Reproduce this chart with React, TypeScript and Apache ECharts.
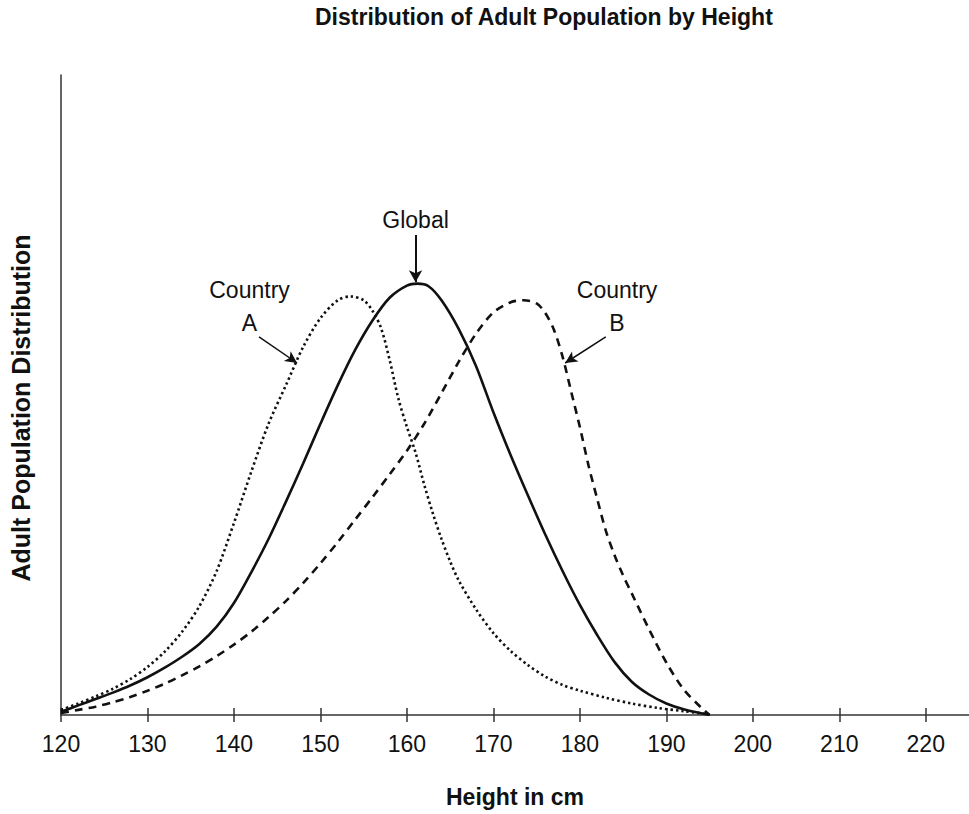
import React, { useEffect, useRef } from "react";
import * as echarts from "echarts";

// ---- data ----
const heightTicks = [120, 130, 140, 150, 160, 170, 180, 190, 200, 210, 220];

const countryAHeights = [120, 122, 124, 126, 128, 130, 132, 134, 136, 138, 140, 142, 144, 146, 148, 150, 152, 153.5, 155, 156, 157, 158, 159, 160, 161, 162, 163, 164, 165, 166, 168, 170, 172, 174, 176, 178, 180, 183, 186, 189, 192, 195];
const countryAValues = [0.8, 1.8, 2.9, 4.1, 5.6, 7.5, 9.9, 13.0, 17.0, 22.5, 30.0, 38.0, 45.5, 51.5, 57.5, 62.0, 64.8, 65.4, 64.8, 63.2, 60.5, 55.5, 49.5, 45.0, 41.0, 36.0, 31.5, 27.5, 24.0, 21.0, 16.5, 12.8, 10.0, 7.8, 6.0, 4.7, 3.8, 2.7, 1.8, 1.1, 0.6, 0.1];

const globalHeights = [120, 122, 124, 126, 128, 130, 132, 134, 136, 138, 140, 142, 144, 146, 148, 150, 152, 154, 156, 158, 160, 161.2, 162.5, 164, 166, 168, 170, 172, 174, 176, 178, 180, 182, 184, 186, 188, 190, 192, 195];
const globalValues = [0.5, 1.5, 2.5, 3.5, 4.6, 5.9, 7.4, 9.1, 11.1, 13.8, 17.5, 22.3, 27.5, 33.3, 39.3, 45.5, 51.5, 57.0, 61.6, 65.2, 67.1, 67.4, 67.0, 64.8, 60.3, 54.5, 47.3, 40.6, 34.3, 28.2, 22.5, 17.2, 12.5, 8.3, 5.2, 3.2, 1.8, 0.9, 0];

const countryBHeights = [120, 122, 124, 126, 128, 130, 132, 134, 136, 138, 140, 142, 144, 146, 148, 150, 152, 154, 156, 158, 160, 162, 164, 166, 168, 170, 172, 173.5, 175, 176, 177, 178, 179, 180, 181, 182, 183, 184, 185, 186, 188, 190, 192, 194, 195];
const countryBValues = [0.3, 0.8, 1.3, 2.0, 2.8, 3.8, 4.9, 6.2, 7.6, 9.2, 11.0, 13.0, 15.3, 17.8, 20.6, 23.7, 27.0, 30.5, 34.0, 37.6, 41.3, 45.5, 50.3, 55.2, 59.6, 62.9, 64.5, 64.8, 64.3, 62.8, 60.2, 56.0, 50.5, 45.0, 39.0, 33.8, 28.8, 25.0, 21.8, 19.0, 13.4, 8.2, 4.0, 1.2, 0];

// annotation labels [height, value, text]
const labelGlobal: [number, number, string] = [161.0, 77.3, "Global"];
const labelA: [number, number, string] = [141.8, 63.8, "Country\nA"];
const labelB: [number, number, string] = [184.3, 63.8, "Country\nB"];

// arrows: [fromHeight, fromValue, toHeight, toValue]
const arrowGlobal = [161.0, 75.0, 161.0, 67.6];
const arrowA = [142.9, 59.1, 147.3, 55.0];
const arrowB = [183.0, 59.1, 178.3, 55.0];

const FONT = "'Liberation Sans', Arial, Helvetica, sans-serif";
const INK = "#111111";

const zip = (xs: number[], ys: number[]) => xs.map((x, i) => [x, ys[i]]);

const markLabel = (l: [number, number, string]) => ({
  coord: [l[0], l[1]],
  symbol: "circle",
  symbolSize: 0,
  label: {
    show: true,
    position: "inside",
    formatter: l[2],
    fontSize: 23,
    lineHeight: 33,
    color: INK,
    fontFamily: FONT,
    align: "center",
  },
});

const arrowLine = (a: number[], width: number) => [
  { coord: [a[0], a[1]], lineStyle: { width, color: INK, type: "solid" } },
  { coord: [a[2], a[3]] },
];

export default function App() {
  const ref = useRef<HTMLDivElement>(null);

  useEffect(() => {
    if (!ref.current) return;
    const chart = echarts.init(ref.current, undefined, { renderer: "svg" });
    const baseLine = { color: INK, width: 2.6 };
    chart.setOption({
      animation: false,
      backgroundColor: "#ffffff",
      title: {
        text: "Distribution of Adult Population by Height",
        left: 315,
        top: 5,
        padding: 0,
        textStyle: { fontSize: 23, fontWeight: "bold", color: INK, fontFamily: FONT },
      },
      grid: { left: 61, right: 0, top: 75, bottom: 99, containLabel: false },
      xAxis: [
        {
          type: "value",
          min: 120,
          max: 225,
          interval: 10,
          name: "Height in cm",
          nameLocation: "middle",
          nameGap: 70,
          nameTextStyle: { fontSize: 23, fontWeight: "bold", color: INK, fontFamily: FONT },
          axisLine: { show: true, lineStyle: { color: "#333", width: 1.5 } },
          axisTick: { show: true, length: 7, customValues: heightTicks, lineStyle: { color: "#333", width: 1.5 } },
          axisLabel: { customValues: heightTicks, fontSize: 23, color: INK, fontFamily: FONT, margin: 17 },
          splitLine: { show: false },
        },
        {
          type: "value",
          min: 120,
          max: 225,
          interval: 10,
          position: "bottom",
          axisLine: { show: false },
          axisTick: { show: true, inside: true, length: 7, customValues: heightTicks, lineStyle: { color: "#333", width: 1.5 } },
          axisLabel: { show: false },
          splitLine: { show: false },
        },
      ],
      yAxis: {
        type: "value",
        min: 0,
        max: 100,
        name: "Adult Population Distribution",
        nameLocation: "middle",
        nameGap: 28,
        nameTextStyle: { fontSize: 25, fontWeight: "bold", color: INK, fontFamily: FONT, padding: [0, 26, 0, 0] },
        axisLine: { show: true, lineStyle: { color: "#333", width: 1.5 } },
        axisTick: { show: false },
        axisLabel: { show: false },
        splitLine: { show: false },
      },
      series: [
        {
          name: "Country A",
          type: "line",
          data: zip(countryAHeights, countryAValues),
          smooth: 0.3,
          showSymbol: false,
          symbol: "none",
          lineStyle: { ...baseLine, type: [2.4, 3] },
          markPoint: { silent: true, data: [markLabel(labelA)] },
          markLine: {
            silent: true,
            symbol: ["none", "arrow"],
            symbolSize: [9, 12],
            label: { show: false },
            data: [arrowLine(arrowA, 1.5)],
          },
        },
        {
          name: "Global",
          type: "line",
          data: zip(globalHeights, globalValues),
          smooth: 0.3,
          showSymbol: false,
          symbol: "none",
          lineStyle: { ...baseLine, type: "solid" },
          markPoint: { silent: true, data: [markLabel(labelGlobal)] },
          markLine: {
            silent: true,
            symbol: ["none", "arrow"],
            symbolSize: [10, 12],
            label: { show: false },
            data: [arrowLine(arrowGlobal, 2)],
          },
        },
        {
          name: "Country B",
          type: "line",
          data: zip(countryBHeights, countryBValues),
          smooth: 0.3,
          showSymbol: false,
          symbol: "none",
          lineStyle: { ...baseLine, type: [8, 6] },
          markPoint: { silent: true, data: [markLabel(labelB)] },
          markLine: {
            silent: true,
            symbol: ["none", "arrow"],
            symbolSize: [9, 12],
            label: { show: false },
            data: [arrowLine(arrowB, 1.5)],
          },
        },
      ],
    });
    return () => chart.dispose();
  }, []);

  return (
    <div
      ref={ref}
      style={{ position: "absolute", left: 0, top: 0, width: 969, height: 814, background: "#fff" }}
    />
  );
}
